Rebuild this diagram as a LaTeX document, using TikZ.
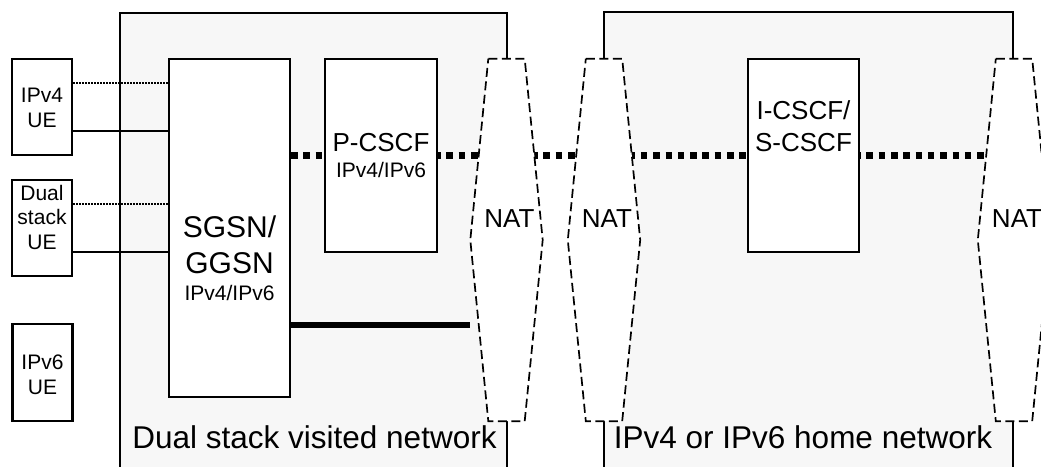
\documentclass[tikz,border=0pt]{standalone}
\usepackage{fontspec}
\setmainfont{Liberation Sans}
\usepackage{tikz}
\usetikzlibrary{positioning}
\definecolor{netfill}{gray}{0.97}
\tikzset{
    %Define style for the network areas
    netarea/.style={
           fill=netfill,
           draw=black,
           line width=2.2pt},
    %Define style for boxes
    elem/.style={
           rectangle,
           draw=black,
           line width=2.2pt,
           fill=white,
           inner sep=0pt},
    uebox/.style={elem, minimum width=60pt, minimum height=96pt},
    % Define invisible frame and outline of a NAT
    natframe/.style={rectangle, inner sep=0pt, minimum width=72pt, minimum height=362pt},
    natline/.style={draw=black, fill=white, line width=1.7pt, dash pattern=on 9pt off 4.5pt},
    % Define connector styles
    sigpath/.style={line width=6.5pt, dash pattern=on 6.5pt off 5.8pt},
    bearer/.style={line width=6.8pt},
    uplane/.style={line width=2pt},
    cplane/.style={line width=1.4pt, dash pattern=on 1.5pt off 1.5pt},
    % Define text styles
    uetext/.style={align=center, font=\fontsize{21}{24.5}\selectfont},
    cscftext/.style={align=center, font=\fontsize{26}{32}\selectfont},
    gsntext/.style={align=center, font=\fontsize{30}{36}\selectfont},
    nettext/.style={font=\fontsize{31.5}{36}\selectfont}
}

\begin{document}
\begin{tikzpicture}[x=1pt,y=-1pt]
  \useasboundingbox (0,0) rectangle (1041,466);
  \clip (0,0) rectangle (1041,466);

  % networks
  \filldraw[netarea] (120,480) -- (120,13) -- (507,13) -- (507,480);
  \filldraw[netarea] (604,480) -- (604,12) -- (1013,12) -- (1013,480);
  \node[nettext, anchor=base] (visited) at (314.5,448) {Dual stack visited network};
  \node[nettext, anchor=base] (home) at (803,448) {IPv4 or IPv6 home network};

  % UEs
  \node[uebox] (ue4) at (42,107) {};
  \node[uebox] (ueds) at (42,228) {};
  \node[uebox, minimum height=97pt] (ue6) at (42.5,372.5) {};
  \node[uetext] (ue4txt) at ([yshift=-1pt]ue4) {IPv4\\UE};
  \node[uetext] (uedstxt) at ([yshift=11pt]ueds) {Dual\\stack\\UE};
  \node[uetext] (ue6txt) at ([yshift=-2.5pt]ue6) {IPv6\\UE};

  % network elements
  \node[elem, minimum width=121pt, minimum height=338pt] (sgsn) at (229.5,228) {};
  \node[gsntext] (sgsntxt) at ([yshift=-30pt]sgsn) {SGSN/\\GGSN\\[-9pt]{\fontsize{21}{25}\selectfont IPv4/IPv6}};
  \node[elem, minimum width=112pt, minimum height=193pt] (pcscf) at (381,155.5) {};
  \node[cscftext] (pcscftxt) at (pcscf) {P-CSCF\\[-6pt]{\fontsize{21}{25}\selectfont IPv4/IPv6}};
  \node[elem, minimum width=111pt, minimum height=193pt] (icscf) at (803.5,155.5) {};
  \node[cscftext] (icscftxt) at ([yshift=29pt]icscf) {I-CSCF/\\S-CSCF};

  % NATs
  \node[natframe] (n1) at (506.5,240) {};
  \node[natframe] (n2) at (604,240) {};
  \node[natframe] (n3) at (1014,240) {};

  % signalling path
  \draw[sigpath] (sgsn.east |- pcscf.west) -- (pcscf.west);
  \draw[sigpath, dash phase=4pt] (pcscf.east) -- (pcscf.east -| n1);
  \draw[sigpath] (pcscf.east -| n1) -- (pcscf.east -| n2);
  \draw[sigpath] (pcscf.east -| n2) -- (icscf.west);
  \draw[sigpath, dash phase=6pt] (icscf.east) -- (icscf.east -| n3);

  % bearer towards the NAT
  \coordinate (brend) at (470,325);
  \draw[bearer] (sgsn.east |- brend) -- (brend);

  % UE access
  \foreach \u in {ue4,ueds} {
    \coordinate (\u cp) at ([yshift=24pt]\u.east);
    \coordinate (\u up) at ([yshift=-24pt]\u.east);
    \draw[cplane] (\u cp) -- (\u cp -| sgsn.west);
    \draw[uplane] (\u up) -- (\u up -| sgsn.west);
  }

  % NAT outlines
  \foreach \n in {n1,n2,n3} {
    \draw[natline] ([xshift=18pt]\n.north west) -- ([xshift=-18pt]\n.north east) -- (\n.east)
        -- ([xshift=-18pt]\n.south east) -- ([xshift=18pt]\n.south west) -- (\n.west) -- cycle;
    \node[cscftext] (\n txt) at ([xshift=3pt,yshift=21pt]\n) {NAT};
  }
\end{tikzpicture}
\end{document}
